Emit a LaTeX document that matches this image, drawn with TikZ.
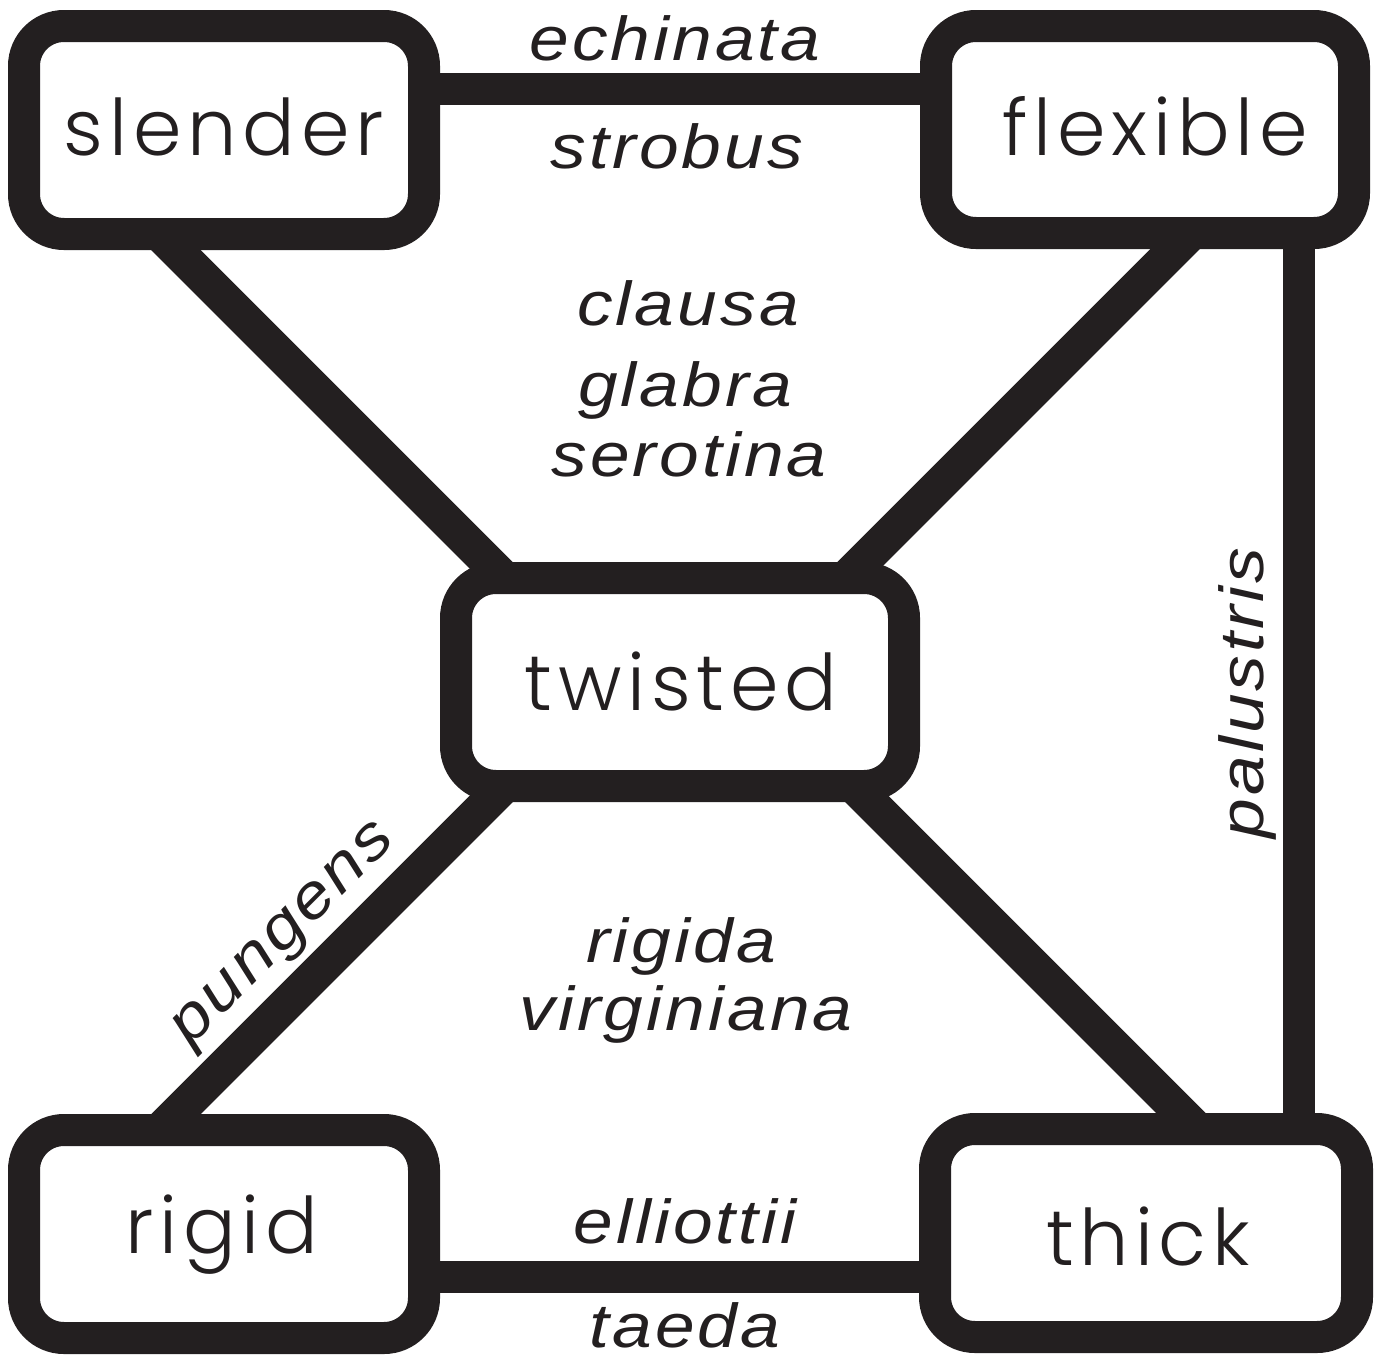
\documentclass[tikz,border=0pt]{standalone}
\usepackage{fontspec}
\usetikzlibrary{calc,backgrounds}
\newfontfamily\boxfont{Poppins}[UprightFont=* Light, LetterSpace=7.5]
\newfontfamily\labfont{Liberation Sans}[FakeStretch=1.15, LetterSpace=5]
\definecolor{ink}{HTML}{231F20}
\begin{document}
\begin{tikzpicture}[x=1pt,y=-1pt,
  box/.style={draw=ink, fill=white, line width=32pt, rounded corners=40pt, rectangle, inner sep=0pt},
  link/.style={draw=ink, line width=32pt},
  diag/.style={draw=ink, line width=35pt},
  word/.style={font=\boxfont\fontsize{78}{78}\selectfont, text=ink, anchor=base, inner sep=0pt},
  lab/.style={font=\labfont\itshape\fontsize{62}{62}\selectfont, text=ink, anchor=base, inner sep=0pt}]
\useasboundingbox (0,0) rectangle (1382,1355);
\node[box, minimum width=400pt, minimum height=208pt] (slender) at (224,130) {};
\node[box, minimum width=418pt, minimum height=207pt] (flexible) at (1145,129.5) {};
\node[box, minimum width=448pt, minimum height=208pt] (twisted) at (680,682) {};
\node[box, minimum width=400pt, minimum height=208pt] (rigid) at (224,1234) {};
\node[box, minimum width=422pt, minimum height=208pt] (thick) at (1146,1233) {};
\begin{pgfonlayer}{background}
\draw[link] ($(slender.east)+(0,-41)$) -- ($(flexible.west)+(0,-40.5)$);
\draw[link] ($(rigid.east)+(0,43)$) -- ($(thick.west)+(0,44)$);
\draw[link] ($(flexible.south)+(154,0)$) -- ($(thick.north)+(153,0)$);
\draw[diag] ($(slender.center)+(-98,70)$) -- ($(twisted.center)+(-134,-62)$);
\draw[diag] ($(flexible.center)+(79,70.5)$) -- ($(twisted.center)+(134,-72)$);
\draw[diag] ($(twisted.center)+(-140,68)$) -- ($(rigid.center)+(-84,-84)$);
\draw[diag] ($(twisted.center)+(138,68)$) -- ($(thick.center)+(92,-63)$);
\end{pgfonlayer}
\node[word] (slendertxt) at (224,155) {slender};
\node[word] (flexibletxt) at (1155,155) {flexible};
\node[word] (twistedtxt) at (681,710) {twisted};
\node[word] (rigidtxt) at (222,1253) {rigid};
\node[word] (thicktxt) at (1148,1265) {thick};
\node[lab] (echinata) at (675,60) {echinata};
\node[lab] (strobus) at (677,168) {strobus};
\node[lab] (clausa) at (688,325) {clausa};
\node[lab] (glabra) at (685,406) {glabra};
\node[lab] (serotina) at (689,476) {serotina};
\node[lab] (rigida) at (681,962) {rigida};
\node[lab] (virginiana) at (686,1030) {virginiana};
\node[lab] (elliottii) at (685,1243) {elliottii};
\node[lab] (taeda) at (685,1347) {taeda};
\node[lab, rotate=90] (palustris) at (1263,693) {palustris};
\node[lab, rotate=45] (pungens) at (294,944) {pungens};
\end{tikzpicture}
\end{document}
